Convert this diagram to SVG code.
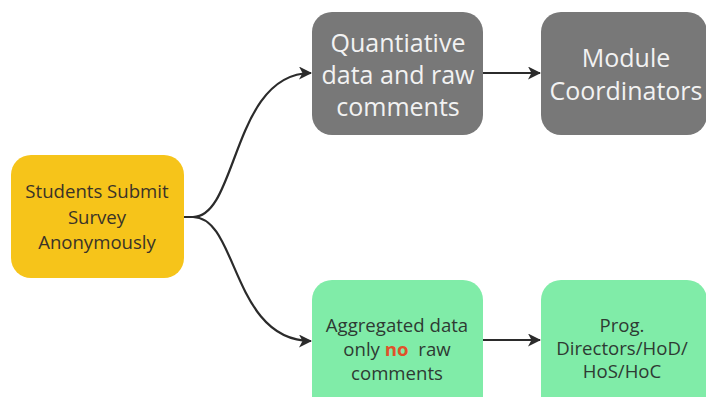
<svg xmlns="http://www.w3.org/2000/svg" width="706" height="397" viewBox="0 0 706 397">
<defs>
<style>
.t{font-family:"Open Sans","Noto Sans","Liberation Sans",sans-serif;text-anchor:middle}
.s{font-size:18.6px;fill:#3a3328}
.g{font-size:18.6px;fill:#2e3a33}
.w{font-size:25px;fill:#f2f2f2}
.c{fill:none;stroke:#2b2b2b;stroke-width:2.2}
</style>
<marker id="ah" viewBox="0 0 13 13" refX="12" refY="6.5" markerWidth="13" markerHeight="13" markerUnits="userSpaceOnUse" orient="auto">
<path d="M0,0 L13,6.5 L0,13 L3.5,6.5 Z" fill="#2b2b2b"/>
</marker>
</defs>
<rect width="706" height="397" fill="#ffffff"/>
<g id="connectors">
<path class="c" d="M183,217 H193 C238,217 232,73 311,73" marker-end="url(#ah)"/>
<path class="c" d="M183,217 H193 C238,217 232,341 311,341" marker-end="url(#ah)"/>
<path class="c" d="M483,73 H540" marker-end="url(#ah)"/>
<path class="c" d="M483,340 H540" marker-end="url(#ah)"/>
</g>
<g id="students">
<rect x="11" y="155" width="173" height="123" rx="20" fill="#f6c41a"/>
<text class="t s" x="97" y="198">Students Submit</text>
<text class="t s" x="97" y="224">Survey</text>
<text class="t s" x="97" y="249">Anonymously</text>
</g>
<g id="quant">
<rect x="312" y="12" width="171" height="123" rx="20" fill="#787878"/>
<text class="t w" x="398" y="52">Quantiative</text>
<text class="t w" x="398" y="84">data and raw</text>
<text class="t w" x="398" y="116">comments</text>
</g>
<g id="module">
<rect x="541" y="12" width="166" height="123" rx="20" fill="#787878"/>
<text class="t w" x="626" y="67">Module</text>
<text class="t w" x="626" y="100">Coordinators</text>
</g>
<g id="aggregated">
<rect x="312" y="280" width="171" height="140" rx="20" fill="#80eca8"/>
<text class="t g" x="397" y="332">Aggregated data</text>
<text class="t g" x="397" y="356">only <tspan fill="#e0522a" font-weight="bold">no</tspan><tspan dx="5"> raw</tspan></text>
<text class="t g" x="397" y="380">comments</text>
</g>
<g id="prog">
<rect x="541" y="280" width="166" height="140" rx="20" fill="#80eca8"/>
<text class="t g" x="622" y="332">Prog.</text>
<text class="t g" x="622" y="355">Directors/HoD/</text>
<text class="t g" x="622" y="378">HoS/HoC</text>
</g>
</svg>
